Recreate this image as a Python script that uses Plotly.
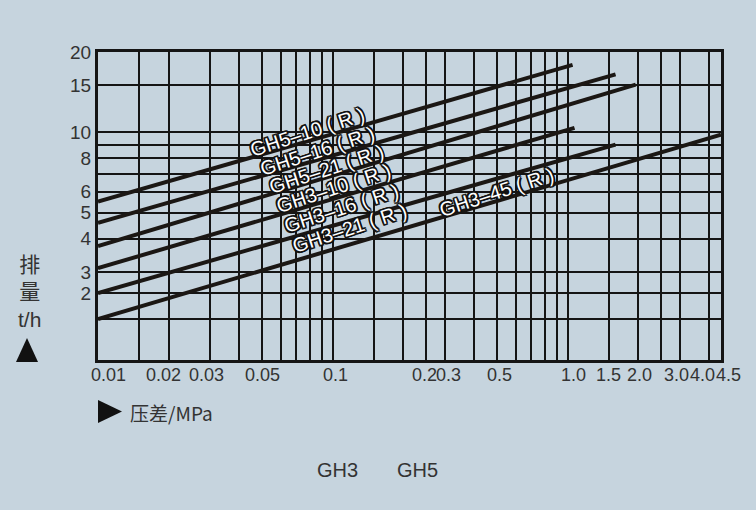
import numpy as np
import plotly.graph_objects as go

# ---------------- data ----------------
series_names = ["GH5-10", "GH5-16", "GH5-21", "GH3-10", "GH3-16", "GH3-45"]
x_start = [0.01, 0.01, 0.01, 0.01, 0.01, 0.01]
x_end = [1.05, 1.6, 1.95, 1.07, 1.6, 4.5]
y_start = [5.5, 4.58, 3.75, 3.1, 2.5, 2.0]
y_end = [17.9, 16.5, 15.1, 10.4, 9.0, 9.8]

label_texts = ["GH5–10 ( R )", "GH5–16 ( R )", "GH5–21 ( R )", "GH3–10 ( R )",
               "GH3–16 ( R )", "GH3–21 ( R )", "GH3–45 ( R )"]
label_x = [0.078, 0.086, 0.094, 0.101, 0.109, 0.118, 0.50]
label_y = [10.0, 8.5, 7.3, 6.2, 5.2, 4.4, 6.0]

x_grid = [0.01, 0.015, 0.02, 0.03, 0.04, 0.05, 0.06, 0.07, 0.08, 0.09, 0.1, 0.15,
          0.2, 0.25, 0.3, 0.4, 0.5, 0.6, 0.7, 0.8, 0.9, 1.0, 1.5, 2.0, 2.5, 3.0, 4.0, 4.5]
x_tick_vals = [0.01, 0.02, 0.03, 0.05, 0.1, 0.2, 0.3, 0.5, 1.0, 1.5, 2.0, 3.0, 4.0, 4.5]
x_tick_text = ["0.01", "0.02", "0.03", "0.05", "0.1", "0.2", "0.3", "0.5", "1.0", "1.5",
               "2.0", "3.0", "4.0", "4.5"]

y_grid = [20, 15, 10, 9, 8, 7, 6, 5, 4, 3, 2.5, 2]
y_grid_text = ["20", "15", "10", "", "8", "", "6", "5", "4", "3", "2", ""]

# ---------------- style ----------------
BG = "#c6d4de"
INK = "#1b1714"
TXT = "#333333"
FONT = "Liberation Sans, Arial, sans-serif"
MIX = "Liberation Sans, Noto Sans CJK SC, sans-serif"
CJK = "Noto Sans CJK SC, sans-serif"
x_label_shift = [10, -5, -4, 0, 3, 21, 4, 3, 6, 0, 1, -3, -6, 7]

# plot area in pixels
L, R, T, B = 98, 721, 52, 360


def px(xp, yp):
    return (xp - L) / (R - L), (B - yp) / (B - T)


fig = go.Figure()
for i, name in enumerate(series_names):
    fig.add_trace(go.Scatter(
        x=[x_start[i], x_end[i]], y=[y_start[i], y_end[i]],
        mode="lines", name=name, line=dict(color=INK, width=4),
        showlegend=False, hoverinfo="skip"))

ann = []
outline = ("-1.5px -1.5px 0 #111, 1.5px -1.5px 0 #111, -1.5px 1.5px 0 #111, 1.5px 1.5px 0 #111, "
           "0 1.5px 0 #111, 0 -1.5px 0 #111, 1.5px 0 0 #111, -1.5px 0 0 #111")
for t, lx, ly in zip(label_texts, label_x, label_y):
    ann.append(dict(x=np.log10(lx), y=np.log10(ly), xref="x", yref="y", text=t,
                    showarrow=False, textangle=-18,
                    font=dict(family=FONT, size=20, color="white", shadow=outline)))

for v, t, s in zip(x_tick_vals, x_tick_text, x_label_shift):
    ann.append(dict(x=np.log10(v), y=0, xref="x", yref="paper", text=t, showarrow=False,
                    xanchor="center", yanchor="top", xshift=s, yshift=-3,
                    font=dict(family=FONT, size=18, color=TXT)))

# y-axis title: stacked characters
xx, yy = px(29, 292)
ann.append(dict(x=xx, y=yy, xref="paper", yref="paper", text="排<br>量<br>t/h",
                showarrow=False, xanchor="center", yanchor="middle", align="center",
                font=dict(family=MIX, size=21, color=TXT)))

for t, (xp, yp) in [("GH3", (337, 470)), ("GH5", (418, 470))]:
    xx, yy = px(xp, yp)
    ann.append(dict(x=xx, y=yy, xref="paper", yref="paper", text=t, showarrow=False,
                    xanchor="center", yanchor="middle",
                    font=dict(family=FONT, size=20, color=TXT)))

xx, yy = px(128, 412)
ann.append(dict(x=xx, y=yy, xref="paper", yref="paper", text="压差/MPa", showarrow=False,
                xanchor="left", yanchor="middle",
                font=dict(family=CJK, size=19, color=TXT)))

shapes = []
a0, b0 = px(16, 362)
a1, b1 = px(38, 338)
shapes.append(dict(type="path", xref="paper", yref="paper",
                   path=f"M {a0} {b0} L {a1} {b0} L {(a0 + a1) / 2} {b1} Z",
                   fillcolor="#111", line=dict(width=0)))
c0, d0 = px(98, 400)
c1, d1 = px(122, 423)
shapes.append(dict(type="path", xref="paper", yref="paper",
                   path=f"M {c0} {d0} L {c1} {(d0 + d1) / 2} L {c0} {d1} Z",
                   fillcolor="#111", line=dict(width=0)))

fig.update_layout(
    width=756, height=510,
    margin=dict(l=L, r=756 - R, t=T, b=510 - B),
    paper_bgcolor=BG, plot_bgcolor=BG,
    annotations=ann, shapes=shapes,
    xaxis=dict(type="log", range=[np.log10(0.01), np.log10(4.5)],
               tickvals=x_grid, ticktext=[""] * len(x_grid), ticks="",
               showgrid=True, gridcolor="#151515", gridwidth=2,
               showline=True, linecolor="#151515", linewidth=3, mirror=True,
               zeroline=False, fixedrange=True),
    yaxis=dict(type="log", range=[np.log10(1.404), np.log10(20)],
               tickvals=y_grid, ticktext=y_grid_text, ticks="",
               tickfont=dict(family=FONT, size=19, color=TXT),
               showgrid=True, gridcolor="#151515", gridwidth=2,
               showline=True, linecolor="#151515", linewidth=3, mirror=True,
               zeroline=False, fixedrange=True),
)

fig.write_html("out.html", config={"displayModeBar": False},
               post_script="document.body.style.margin='0';document.body.style.overflow='hidden';")
